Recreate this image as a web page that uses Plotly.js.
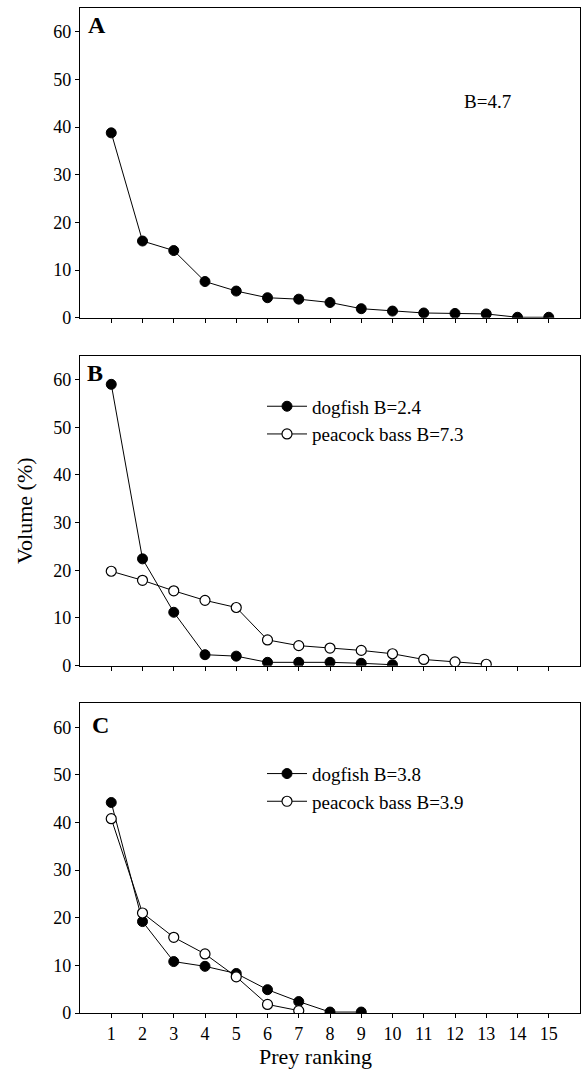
<!DOCTYPE html>
<html>
<head>
<meta charset="utf-8">
<script src="https://cdn.plot.ly/plotly-3.0.1.min.js"></script>
<style>html,body{margin:0;padding:0;background:#fff;}#chart{width:581px;height:1071px;}</style>
</head>
<body>
<div id="chart"></div>
<script>
// Prey ranking (x) and volume (%) values
const rankA = [1,2,3,4,5,6,7,8,9,10,11,12,13,14,15];
const volA  = [38.8,16.1,14.1,7.6,5.6,4.2,3.9,3.2,1.9,1.4,1.0,0.9,0.8,0.1,0.1];

const rankB_dog = [1,2,3,4,5,6,7,8,9,10];
const volB_dog  = [59.0,22.4,11.2,2.3,2.0,0.7,0.7,0.7,0.5,0.2];
const rankB_pb  = [1,2,3,4,5,6,7,8,9,10,11,12,13];
const volB_pb   = [19.8,17.9,15.7,13.7,12.2,5.4,4.2,3.7,3.2,2.5,1.3,0.8,0.3];

const rankC_dog = [1,2,3,4,5,6,7,8,9];
const volC_dog  = [44.2,19.2,10.8,9.8,8.3,4.9,2.4,0.2,0.2];
const rankC_pb  = [1,2,3,4,5,6,7];
const volC_pb   = [40.8,21.0,15.9,12.4,7.6,1.8,0.5];

const tickRanks = [1,2,3,4,5,6,7,8,9,10,11,12,13,14,15];
const tickVol   = [0,10,20,30,40,50,60];

const labelsB = ['dogfish B=2.4','peacock bass B=7.3'];
const labelsC = ['dogfish B=3.8','peacock bass B=3.9'];
const panelLetters = ['A','B','C'];
const breadthA = 'B=4.7';

const FONT = 'Liberation Serif';
const filled = {symbol:'circle', size:10, color:'#000', line:{color:'#000', width:1}};
const open   = {symbol:'circle', size:10, color:'#fff', line:{color:'#000', width:1.2}};
const ln = {color:'#000', width:1};

const traces = [
  {x:rankA, y:volA, xaxis:'x', yaxis:'y', mode:'lines+markers', marker:filled, line:ln, showlegend:false},
  {x:rankB_dog, y:volB_dog, xaxis:'x2', yaxis:'y2', mode:'lines+markers', marker:filled, line:ln, name:labelsB[0], legend:'legend'},
  {x:rankB_pb, y:volB_pb, xaxis:'x2', yaxis:'y2', mode:'lines+markers', marker:open, line:ln, name:labelsB[1], legend:'legend'},
  {x:rankC_dog, y:volC_dog, xaxis:'x3', yaxis:'y3', mode:'lines+markers', marker:filled, line:ln, name:labelsC[0], legend:'legend2'},
  {x:rankC_pb, y:volC_pb, xaxis:'x3', yaxis:'y3', mode:'lines+markers', marker:open, line:ln, name:labelsC[1], legend:'legend2'}
];

function xa(anchor, showLabels){
  return {anchor:anchor, domain:[0,1], range:[0,16], tickvals:tickRanks, ticktext:tickRanks.map(String),
    showticklabels:showLabels, ticks:'outside', ticklen:4, tickwidth:1, tickcolor:'#000',
    showline:true, linecolor:'#000', linewidth:1.2, mirror:true, showgrid:false, zeroline:false,
    tickfont:{family:FONT, size:18, color:'#000'}, fixedrange:true};
}
function ya(anchor, dom){
  return {anchor:anchor, domain:dom, range:[0,65], tickvals:tickVol, ticks:'outside', ticklen:4, tickwidth:1, tickcolor:'#000',
    showline:true, linecolor:'#000', linewidth:1.2, mirror:true, showgrid:false, zeroline:false,
    tickfont:{family:FONT, size:18, color:'#000'}, fixedrange:true};
}

const y2 = ya('x2',[0.3456,0.654]);
y2.title = {text:'Volume (%)', font:{family:FONT, size:22, color:'#000'}, standoff:14};

const legFont = {family:FONT, size:19, color:'#000'};
const letterFont = {family:FONT, size:24, color:'#000'};
const layout = {
  width:581, height:1071,
  margin:{l:80, r:1, t:8, b:58},
  paper_bgcolor:'#fff', plot_bgcolor:'#fff',
  font:{family:FONT, color:'#000'},
  xaxis:xa('y',false), yaxis:ya('x',[0.6918,1]),
  xaxis2:xa('y2',false), yaxis2:y2,
  xaxis3:xa('y3',true), yaxis3:ya('x3',[0,0.308]),
  legend:{x:0.364, y:0.6225, xanchor:'left', yanchor:'top', font:legFont, bgcolor:'rgba(0,0,0,0)', borderwidth:0, tracegroupgap:0, itemwidth:40},
  legend2:{x:0.364, y:0.257, xanchor:'left', yanchor:'top', font:legFont, bgcolor:'rgba(0,0,0,0)', borderwidth:0, tracegroupgap:0, itemwidth:40},
  annotations:[
    {text:'<b>'+panelLetters[0]+'</b>', xref:'x domain', yref:'y domain', x:0.034, y:0.945, xanchor:'center', yanchor:'middle', showarrow:false, font:letterFont},
    {text:'<b>'+panelLetters[1]+'</b>', xref:'x2 domain', yref:'y2 domain', x:0.03, y:0.945, xanchor:'center', yanchor:'middle', showarrow:false, font:letterFont},
    {text:'<b>'+panelLetters[2]+'</b>', xref:'x3 domain', yref:'y3 domain', x:0.04, y:0.932, xanchor:'center', yanchor:'middle', showarrow:false, font:letterFont},
    {text:breadthA, xref:'x domain', yref:'y domain', x:0.815, y:0.697, xanchor:'center', yanchor:'middle', showarrow:false, font:{family:FONT,size:19,color:'#000'}},
    {text:'Prey ranking', xref:'paper', yref:'paper', x:(315.5-80)/500, y:-0.0435, xanchor:'center', yanchor:'middle', showarrow:false, font:{family:FONT,size:22,color:'#000'}}
  ]
};

Plotly.newPlot('chart', traces, layout, {displayModeBar:false, staticPlot:true});
</script>
</body>
</html>
